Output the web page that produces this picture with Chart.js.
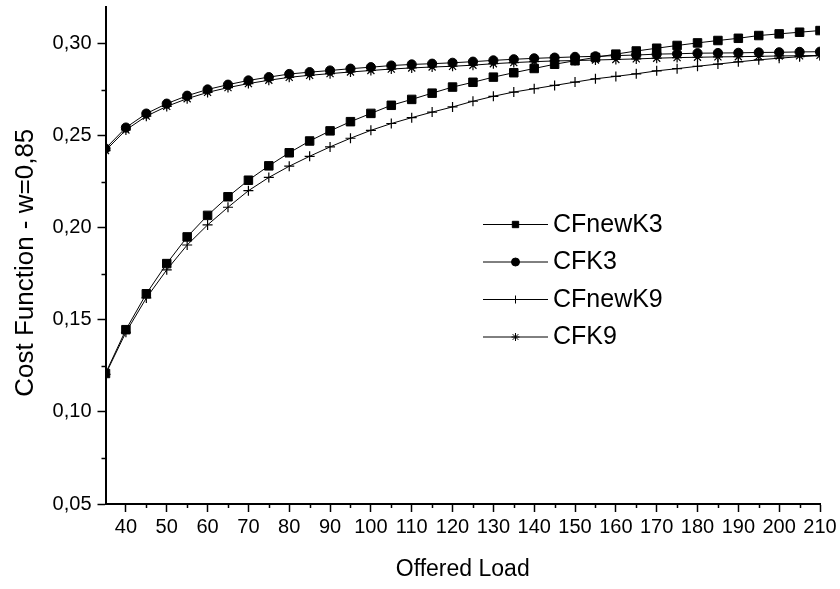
<!DOCTYPE html>
<html>
<head>
<meta charset="utf-8">
<script src="https://cdn.jsdelivr.net/npm/chart.js@4.4.1/dist/chart.umd.min.js"></script>
<style>
  html, body { margin: 0; padding: 0; background: #fff; }
</style>
</head>
<body>
<canvas id="chart" width="840" height="589"></canvas>
<script>
var loads = [35, 40, 45, 50, 55, 60, 65, 70, 75, 80, 85, 90, 95, 100, 105, 110, 115, 120,
  125, 130, 135, 140, 145, 150, 155, 160, 165, 170, 175, 180, 185, 190, 195, 200, 205, 210];

var cfNewK3 = [0.1209, 0.1447, 0.1642, 0.1806, 0.1951, 0.2068, 0.2169, 0.2259, 0.2337, 0.2408,
  0.2472, 0.2527, 0.2577, 0.2622, 0.2666, 0.2698, 0.2732, 0.2765, 0.2791, 0.2819, 0.2843,
  0.2866, 0.2889, 0.2908, 0.2926, 0.2944, 0.2961, 0.2976, 0.2991, 0.3005, 0.3018, 0.3030,
  0.3045, 0.3054, 0.3063, 0.3072];
var cfK3 = [0.2431, 0.2545, 0.2621, 0.2675, 0.2718, 0.2752, 0.2778, 0.2801, 0.2819, 0.2836,
  0.2846, 0.2855, 0.2865, 0.2873, 0.2882, 0.2888, 0.2892, 0.2897, 0.2903, 0.2910, 0.2916,
  0.2921, 0.2925, 0.2929, 0.2932, 0.2936, 0.2939, 0.2944, 0.2946, 0.2949, 0.2950, 0.2951,
  0.2953, 0.2954, 0.2956, 0.2957];
var cfNewK9 = [0.1204, 0.1433, 0.1619, 0.1772, 0.1907, 0.2016, 0.2112, 0.2202, 0.2274, 0.2335,
  0.2389, 0.2440, 0.2487, 0.2530, 0.2567, 0.2599, 0.2629, 0.2657, 0.2688, 0.2715, 0.2738,
  0.2756, 0.2774, 0.2792, 0.2810, 0.2823, 0.2837, 0.2853, 0.2865, 0.2878, 0.2890, 0.2902,
  0.2913, 0.2922, 0.2930, 0.2936];
var cfK9 = [0.2420, 0.2532, 0.2607, 0.2660, 0.2702, 0.2736, 0.2762, 0.2784, 0.2802, 0.2818,
  0.2829, 0.2838, 0.2847, 0.2855, 0.2863, 0.2869, 0.2874, 0.2878, 0.2884, 0.2892, 0.2898,
  0.2903, 0.2907, 0.2909, 0.2912, 0.2915, 0.2918, 0.2922, 0.2925, 0.2927, 0.2929, 0.2930,
  0.2932, 0.2934, 0.2935, 0.2937];

var seriesNames = ['CFnewK3', 'CFK3', 'CFnewK9', 'CFK9'];

var xTicks = [40, 50, 60, 70, 80, 90, 100, 110, 120, 130, 140, 150, 160, 170, 180, 190, 200, 210];
var xMinorTicks = [45, 55, 65, 75, 85, 95, 105, 115, 125, 135, 145, 155, 165, 175, 185, 195, 205];
var yTicks = [0.05, 0.10, 0.15, 0.20, 0.25, 0.30];
var yMinorTicks = [0.075, 0.125, 0.175, 0.225, 0.275];

var FONT = "'Liberation Sans', Arial, sans-serif";

function pts(values) {
  return loads.map(function(x, i) { return { x: x, y: values[i] }; });
}

var markers = [
  { style: 'rect', radius: 6, width: 1 },
  { style: 'circle', radius: 4.6, width: 1 },
  { style: 'cross', radius: 5, width: 1.2 },
  { style: 'star', radius: 5, width: 1.2 }
];

var datasets = [cfNewK3, cfK3, cfNewK9, cfK9].map(function(vals, i) {
  var m = markers[i];
  return {
    label: seriesNames[i],
    data: pts(vals),
    borderColor: '#000',
    backgroundColor: '#000',
    borderWidth: 1,
    tension: 0,
    pointStyle: m.style,
    pointRadius: m.radius,
    pointBorderWidth: m.width,
    pointBackgroundColor: '#000',
    pointBorderColor: '#000'
  };
});

// short minor ticks and the in-plot legend
var extras = {
  id: 'extras',
  afterDraw: function(chart) {
    var ctx = chart.ctx, xs = chart.scales.x, ys = chart.scales.y;
    ctx.save();
    ctx.strokeStyle = '#000';
    ctx.lineWidth = 1.5;
    ctx.beginPath();
    xMinorTicks.forEach(function(v) {
      var px = Math.round(xs.getPixelForValue(v)) + 0.5;
      ctx.moveTo(px, xs.top);
      ctx.lineTo(px, xs.top + 4);
    });
    yMinorTicks.forEach(function(v) {
      var py = Math.round(ys.getPixelForValue(v)) + 0.5;
      ctx.moveTo(ys.right - 4, py);
      ctx.lineTo(ys.right, py);
    });
    ctx.stroke();

    // legend
    var lx0 = 483, lx1 = 548, tx = 553, y0 = 224, dy = 37.5;
    ctx.font = '25px ' + FONT;
    ctx.textBaseline = 'middle';
    ctx.fillStyle = '#000';
    chart.data.datasets.forEach(function(ds, i) {
      var y = y0 + i * dy;
      ctx.lineWidth = 1;
      ctx.beginPath();
      ctx.moveTo(lx0, y + 0.5);
      ctx.lineTo(lx1, y + 0.5);
      ctx.stroke();
      Chart.helpers.drawPoint(ctx, {
        pointStyle: ds.pointStyle, radius: ds.pointStyle === 'rect' ? 4.5 : 4,
        rotation: 0, borderWidth: ds.pointBorderWidth
      }, (lx0 + lx1) / 2, y + 0.5);
      ctx.fillStyle = '#000';
      ctx.fillText(ds.label, tx, y + 1);
    });
    ctx.restore();
  }
};

var chart = new Chart(document.getElementById('chart').getContext('2d'), {
  type: 'line',
  data: { datasets: datasets },
  plugins: [extras],
  options: {
    responsive: false,
    animation: false,
    layout: { padding: { left: 0, top: 5.6, right: 20, bottom: 5 } },
    plugins: { legend: { display: false }, tooltip: { enabled: false } },
    scales: {
      x: {
        type: 'linear',
        min: 35,
        max: 210,
        afterBuildTicks: function(s) { s.ticks = xTicks.map(function(v) { return { value: v }; }); },
        afterFit: function(s) { s.height = 80; s.paddingLeft = 0; s.paddingRight = 0; },
        border: { display: true, color: '#000', width: 2 },
        grid: { drawOnChartArea: false, drawTicks: true, tickLength: 8, tickWidth: 1.5, tickColor: '#000' },
        ticks: { color: '#000', font: { family: FONT, size: 20 }, padding: 3, maxRotation: 0, autoSkip: false },
        title: { display: true, text: 'Offered Load', color: '#000', font: { family: FONT, size: 23 }, padding: { top: 0, bottom: 1 } }
      },
      y: {
        min: 0.05,
        max: 0.32,
        afterBuildTicks: function(s) { s.ticks = yTicks.map(function(v) { return { value: v }; }); },
        afterFit: function(s) { s.width = 105.5; s.paddingTop = 0; s.paddingBottom = 0; },
        border: { display: true, color: '#000', width: 2 },
        grid: { drawOnChartArea: false, drawTicks: true, tickLength: 8, tickWidth: 1.5, tickColor: '#000' },
        ticks: {
          color: '#000', font: { family: FONT, size: 20 }, padding: 6,
          callback: function(v) { return v.toFixed(2).replace('.', ','); }
        },
        title: { display: true, text: 'Cost Function - w=0,85  ', color: '#000', font: { family: FONT, size: 26 }, padding: { top: 10, bottom: 0 } }
      }
    }
  }
});
</script>
</body>
</html>
